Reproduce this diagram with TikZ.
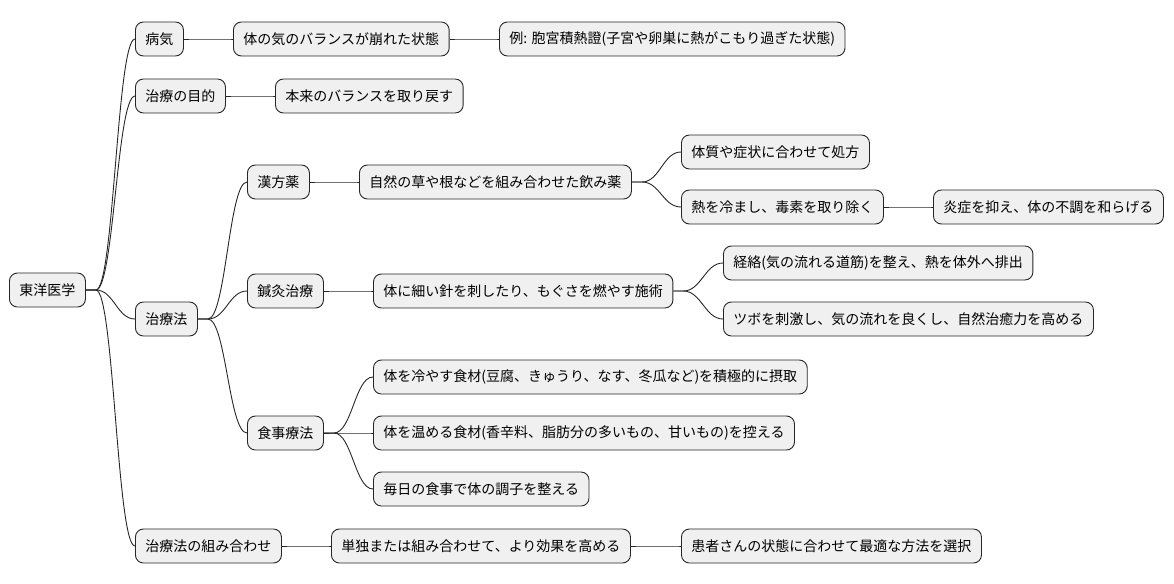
\documentclass[tikz,border=0pt]{standalone}
\usepackage{fontspec}
\setmainfont{Noto Sans CJK JP}
\begin{document}
\begin{tikzpicture}[x=1pt,y=-1pt,
 n/.style={draw=black!85,fill=black!6,rounded corners=8pt,line width=0.9pt,anchor=west,
   minimum height=34pt,inner xsep=10pt,font=\fontsize{14}{16}\selectfont},
 e/.style={draw=black!85,line width=0.9pt}]
\useasboundingbox (0,0) rectangle (1174,583);
\node[n] (r) at (9,290) {東洋医学};
\node[n] (a) at (135,39) {病気};
\node[n] (a1) at (233,39) {体の気のバランスが崩れた状態};
\node[n] (a2) at (499,39) {例: 胞宮積熱證(子宮や卵巣に熱がこもり過ぎた状態)};
\node[n] (b) at (135,96) {治療の目的};
\node[n] (b1) at (275,96) {本来のバランスを取り戻す};
\node[n] (c) at (135,319) {治療法};
\node[n] (k) at (247,182) {漢方薬};
\node[n] (k1) at (359,182) {自然の草や根などを組み合わせた飲み薬};
\node[n] (k2) at (681,152) {体質や症状に合わせて処方};
\node[n] (k3) at (681,207) {熱を冷まし、毒素を取り除く};
\node[n] (k4) at (933,207) {炎症を抑え、体の不調を和らげる};
\node[n] (s) at (247,291) {鍼灸治療};
\node[n] (s1) at (373,291) {体に細い針を刺したり、もぐさを燃やす施術};
\node[n] (s2) at (723,263) {経絡(気の流れる道筋)を整え、熱を体外へ排出};
\node[n] (s3) at (723,319) {ツボを刺激し、気の流れを良くし、自然治癒力を高める};
\node[n] (f) at (247,433) {食事療法};
\node[n] (f1) at (373,377) {体を冷やす食材(豆腐、きゅうり、なす、冬瓜など)を積極的に摂取};
\node[n] (f2) at (373,433) {体を温める食材(香辛料、脂肪分の多いもの、甘いもの)を控える};
\node[n] (f3) at (373,489) {毎日の食事で体の調子を整える};
\node[n] (d) at (135,546) {治療法の組み合わせ};
\node[n] (d1) at (331,546) {単独または組み合わせて、より効果を高める};
\node[n] (d2) at (681,546) {患者さんの状態に合わせて最適な方法を選択};
\foreach \p/\c in {r/a,r/b,r/c,r/d,a/a1,a1/a2,b/b1,c/k,c/s,c/f,k/k1,k1/k2,k1/k3,k3/k4,s/s1,s1/s2,s1/s3,f/f1,f/f2,f/f3,d/d1,d1/d2}
  \draw[e] (\p.east) -- ++(10,0) .. controls +(18,0) and +(-18,0) .. (\c.west);
\end{tikzpicture}
\end{document}
